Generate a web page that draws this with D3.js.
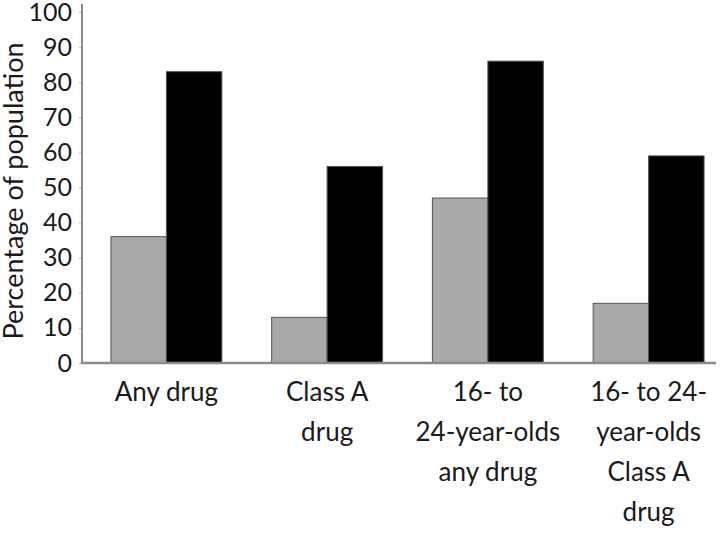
<!DOCTYPE html>
<html>
<head>
<meta charset="utf-8">
<script src="https://cdn.jsdelivr.net/npm/d3@7"></script>
<style>
  body { margin: 0; background: #fff; }
  text { font-family: Lato, "Open Sans", sans-serif; fill: #1a1a1a; }
</style>
</head>
<body>
<div id="chart"></div>
<script>
// data
var categories = ['Any drug', 'Class A drug', '16-24 any drug', '16-24 Class A drug'];
var categoryLines = [
  ['Any drug'],
  ['Class A', 'drug'],
  ['16- to', '24-year-olds', 'any drug'],
  ['16- to 24-', 'year-olds', 'Class A', 'drug']
];
var seriesNames = ['grey', 'black'];
var greyValues = [36, 13, 47, 17];
var blackValues = [83, 56, 86, 59];
var yTicks = [0, 10, 20, 30, 40, 50, 60, 70, 80, 90, 100];

var width = 720, height = 534;
var axisX = 82, baseY = 363, topY = 12, axisEnd = 716;

var svg = d3.select('#chart').append('svg')
  .attr('width', width)
  .attr('height', height);

var x = d3.scaleBand()
  .domain(categories)
  .range([82, 733])
  .paddingInner(0.31)
  .paddingOuter(0.18);

var xInner = d3.scaleBand()
  .domain(seriesNames)
  .range([0, x.bandwidth()]);

var y = d3.scaleLinear()
  .domain([0, 100])
  .range([baseY, topY]);

var colour = d3.scaleOrdinal()
  .domain(seriesNames)
  .range(['#a9a9a9', '#000000']);

var rows = categories.map(function(c, i){
  return {cat: c, values: [
    {key: 'grey', value: greyValues[i]},
    {key: 'black', value: blackValues[i]}
  ]};
});

// bars
var groups = svg.selectAll('.group').data(rows)
  .enter().append('g')
  .attr('class', 'group')
  .attr('transform', function(d){ return 'translate(' + x(d.cat) + ',0)'; });

groups.selectAll('rect').data(function(d){ return d.values; })
  .enter().append('rect')
  .attr('x', function(d){ return xInner(d.key); })
  .attr('y', function(d){ return y(d.value); })
  .attr('width', xInner.bandwidth())
  .attr('height', function(d){ return baseY - y(d.value); })
  .attr('fill', function(d){ return colour(d.key); })
  .attr('stroke', '#555')
  .attr('stroke-width', 1);

// y axis
var yAxis = svg.append('g')
  .attr('transform', 'translate(' + axisX + ',0)')
  .call(d3.axisLeft(y).tickValues(yTicks).tickSize(3).tickPadding(7));
yAxis.select('.domain').remove();
yAxis.selectAll('.tick line').attr('stroke', '#bbb');
yAxis.selectAll('.tick text')
  .style('font-size', '25px')
  .style('font-family', 'Lato, sans-serif')
  .attr('fill', '#1a1a1a');

svg.append('line')
  .attr('x1', axisX).attr('x2', axisX)
  .attr('y1', 4).attr('y2', baseY)
  .attr('stroke', '#8a8a8a')
  .attr('stroke-width', 2);

// baseline
svg.append('line')
  .attr('x1', axisX - 1).attr('x2', axisEnd)
  .attr('y1', baseY).attr('y2', baseY)
  .attr('stroke', '#8a8a8a')
  .attr('stroke-width', 2.5);

// category labels
var labels = svg.selectAll('.cat-label').data(rows)
  .enter().append('text')
  .attr('class', 'cat-label')
  .attr('text-anchor', 'middle')
  .style('font-size', '26px')
  .attr('transform', function(d){ return 'translate(' + (x(d.cat) + x.bandwidth()/2) + ',401)'; });

labels.selectAll('tspan').data(function(d, i){ return categoryLines[i]; })
  .enter().append('tspan')
  .attr('x', 0)
  .attr('y', function(d, i){ return i * 40; })
  .text(function(d){ return d; });

// y title
svg.append('text')
  .attr('transform', 'translate(23,191) rotate(-90)')
  .attr('text-anchor', 'middle')
  .style('font-size', '27px')
  .text('Percentage of population');
</script>
</body>
</html>
